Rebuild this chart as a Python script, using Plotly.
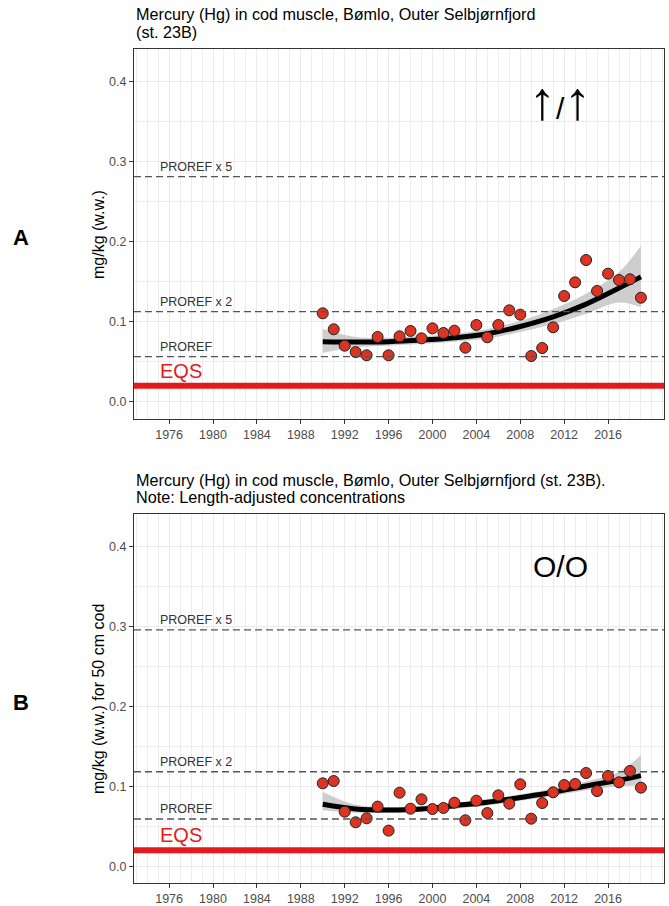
import plotly.graph_objects as go

# ---------------- data ----------------
years = list(range(1990, 2020))
hg_A = [0.1105, 0.0905, 0.070, 0.062, 0.058, 0.081, 0.058, 0.0817, 0.0884, 0.0792,
        0.0917, 0.0859, 0.0888, 0.0675, 0.0959, 0.0805, 0.0959, 0.1142, 0.1088, 0.0571,
        0.0671, 0.0930, 0.1321, 0.1492, 0.1771, 0.1384, 0.160, 0.1521, 0.153, 0.130]
hg_B = [0.1037, 0.1066, 0.0683, 0.055, 0.060, 0.0746, 0.0446, 0.092, 0.072, 0.0837,
        0.0716, 0.0729, 0.0795, 0.0575, 0.082, 0.0666, 0.0887, 0.0783, 0.1025, 0.0595,
        0.0791, 0.0925, 0.1016, 0.1029, 0.1166, 0.0941, 0.1129, 0.105, 0.1191, 0.0983]

trend_years = [1990, 1993, 1996, 1999, 2002, 2005, 2008, 2011, 2014, 2017, 2019]
fit_A = [0.075, 0.0745, 0.075, 0.077, 0.080, 0.085, 0.094, 0.106, 0.122, 0.142, 0.156]
lo_A = [0.061, 0.068, 0.070, 0.072, 0.075, 0.079, 0.087, 0.097, 0.110, 0.124, 0.118]
hi_A = [0.091, 0.081, 0.080, 0.082, 0.085, 0.091, 0.101, 0.116, 0.135, 0.162, 0.195]

fit_B = [0.0775, 0.0716, 0.0704, 0.0716, 0.0758, 0.080, 0.086, 0.0925, 0.1004, 0.1075, 0.1133]
lo_B = [0.070, 0.067, 0.067, 0.068, 0.072, 0.076, 0.082, 0.088, 0.095, 0.100, 0.101]
hi_B = [0.093, 0.077, 0.074, 0.075, 0.079, 0.084, 0.090, 0.097, 0.106, 0.118, 0.139]

proref_A = 0.05625
proref_B = 0.0591
eqs = 0.02

title_A = ["Mercury (Hg) in cod muscle, Bømlo, Outer Selbjørnfjord", "(st. 23B)"]
title_B = ["Mercury (Hg) in cod muscle, Bømlo, Outer Selbjørnfjord (st. 23B).",
           "Note: Length-adjusted concentrations"]
ylab_A = "mg/kg (w.w.)"
ylab_B = "mg/kg (w.w.) for 50 cm cod"
x_ticks = list(range(1976, 2017, 4))

# ---------------- layout helpers ----------------
W, H = 669, 906
FONT = "Liberation Sans, Arial, Helvetica, sans-serif"


def px(x):
    return x / W


def py(y):
    return 1 - y / H


fig = go.Figure()

panels = [
    dict(xa="x", ya="y", vals=hg_A, fit=fit_A, lo=lo_A, hi=hi_A, pr=proref_A),
    dict(xa="x2", ya="y2", vals=hg_B, fit=fit_B, lo=lo_B, hi=hi_B, pr=proref_B),
]

for p in panels:
    fig.add_trace(go.Scatter(x=trend_years, y=p["lo"], mode="lines", line=dict(width=0, shape="spline"),
                             xaxis=p["xa"], yaxis=p["ya"], showlegend=False, hoverinfo="skip"))
    fig.add_trace(go.Scatter(x=trend_years, y=p["hi"], mode="lines", line=dict(width=0, shape="spline"),
                             fill="tonexty", fillcolor="rgba(190,190,190,0.75)",
                             xaxis=p["xa"], yaxis=p["ya"], showlegend=False, hoverinfo="skip"))
    fig.add_trace(go.Scatter(x=trend_years, y=p["fit"], mode="lines",
                             line=dict(color="black", width=5, shape="spline"),
                             xaxis=p["xa"], yaxis=p["ya"], showlegend=False))
    fig.add_trace(go.Scatter(x=years, y=p["vals"], mode="markers",
                             marker=dict(size=11, color="#dd3322", line=dict(color="#222222", width=1)),
                             xaxis=p["xa"], yaxis=p["ya"], showlegend=False))

shapes = []
annotations = []
for p in panels:
    xd = p["xa"] + " domain"
    for mult, lab in [(1, "PROREF"), (2, "PROREF x 2"), (5, "PROREF x 5")]:
        shapes.append(dict(type="line", xref=xd, yref=p["ya"], x0=0, x1=1,
                           y0=p["pr"] * mult, y1=p["pr"] * mult,
                           line=dict(color="#555555", width=1.3, dash="7px,4px"), layer="above"))
        annotations.append(dict(xref=p["xa"], yref=p["ya"], x=1975, y=p["pr"] * mult, text=lab,
                                showarrow=False, xanchor="left", yanchor="bottom", yshift=1,
                                font=dict(family=FONT, size=12.5, color="#333333")))
    shapes.append(dict(type="line", xref=xd, yref=p["ya"], x0=0, x1=1, y0=eqs, y1=eqs,
                       line=dict(color="#e41a1c", width=6), layer="above"))
    annotations.append(dict(xref=p["xa"], yref=p["ya"], x=1975, y=eqs, text="EQS",
                            showarrow=False, xanchor="left", yanchor="bottom", yshift=2,
                            font=dict(family=FONT, size=20, color="#e41a1c")))

# titles (one annotation per line)
for lines, ys in [(title_A, [14, 31.5]), (title_B, [479.5, 497])]:
    for txt, yc in zip(lines, ys):
        annotations.append(dict(xref="paper", yref="paper", x=px(134), y=py(yc), text=txt,
                                showarrow=False, xanchor="left", yanchor="middle",
                                font=dict(family=FONT, size=16.2, color="black")))
# y axis titles
annotations.append(dict(xref="paper", yref="paper", x=px(98), y=py(234), text=ylab_A, textangle=-90,
                        showarrow=False, xanchor="center", yanchor="middle",
                        font=dict(family=FONT, size=16, color="black")))
annotations.append(dict(xref="paper", yref="paper", x=px(98), y=py(699), text=ylab_B, textangle=-90,
                        showarrow=False, xanchor="center", yanchor="middle",
                        font=dict(family=FONT, size=16, color="black")))
# panel letters
annotations.append(dict(xref="paper", yref="paper", x=px(21), y=py(237), text="<b>A</b>",
                        showarrow=False, xanchor="center", yanchor="middle",
                        font=dict(family=FONT, size=22, color="black")))
annotations.append(dict(xref="paper", yref="paper", x=px(21), y=py(702), text="<b>B</b>",
                        showarrow=False, xanchor="center", yanchor="middle",
                        font=dict(family=FONT, size=22, color="black")))
# trend symbols
arrow_txt = ("<b><span style='font-size:54px'>↑</span></b>"
             "<span style='font-size:30px'>/</span>"
             "<b><span style='font-size:54px'>↑</span></b>")
annotations.append(dict(xref="paper", yref="paper", x=px(560), y=py(100), text=arrow_txt,
                        showarrow=False, xanchor="center", yanchor="middle",
                        font=dict(family=FONT, size=30, color="black")))
annotations.append(dict(xref="paper", yref="paper", x=px(560), y=py(566), text="O/O",
                        showarrow=False, xanchor="center", yanchor="middle",
                        font=dict(family=FONT, size=30, color="black")))

xaxis_common = dict(
    range=[1972.8, 2021.1], tickmode="array", tickvals=x_ticks, ticktext=[str(t) for t in x_ticks],
    showgrid=True, gridcolor="#ebebeb", gridwidth=1.2,
    minor=dict(dtick=1, tick0=1976, showgrid=True, gridcolor="#ededed", gridwidth=0.7),
    ticks="outside", ticklen=4, tickcolor="#333333", tickwidth=1,
    showline=True, linecolor="#333333", linewidth=1, mirror=True, zeroline=False,
    tickfont=dict(family=FONT, size=12.5, color="#4d4d4d"),
    domain=[px(134), px(664)],
)
yaxis_common = dict(
    dtick=0.1, tick0=0, tickformat=".1f",
    showgrid=True, gridcolor="#ebebeb", gridwidth=1.2,
    minor=dict(dtick=0.05, tick0=0, showgrid=True, gridcolor="#ededed", gridwidth=0.7),
    ticks="outside", ticklen=4, tickcolor="#333333", tickwidth=1,
    showline=True, linecolor="#333333", linewidth=1, mirror=True, zeroline=False,
    tickfont=dict(family=FONT, size=12.5, color="#4d4d4d"),
)

fig.update_layout(
    width=W, height=H,
    margin=dict(l=0, r=0, t=0, b=0),
    paper_bgcolor="white", plot_bgcolor="white",
    showlegend=False,
    xaxis=dict(xaxis_common, anchor="y"),
    yaxis=dict(yaxis_common, anchor="x", range=[-0.021, 0.441], domain=[py(418.5), py(48.9)]),
    xaxis2=dict(xaxis_common, anchor="y2"),
    yaxis2=dict(yaxis_common, anchor="x2", range=[-0.021, 0.441], domain=[py(883.1), py(513.5)]),
    shapes=shapes,
    annotations=annotations,
)

fig.write_html("out.html")
